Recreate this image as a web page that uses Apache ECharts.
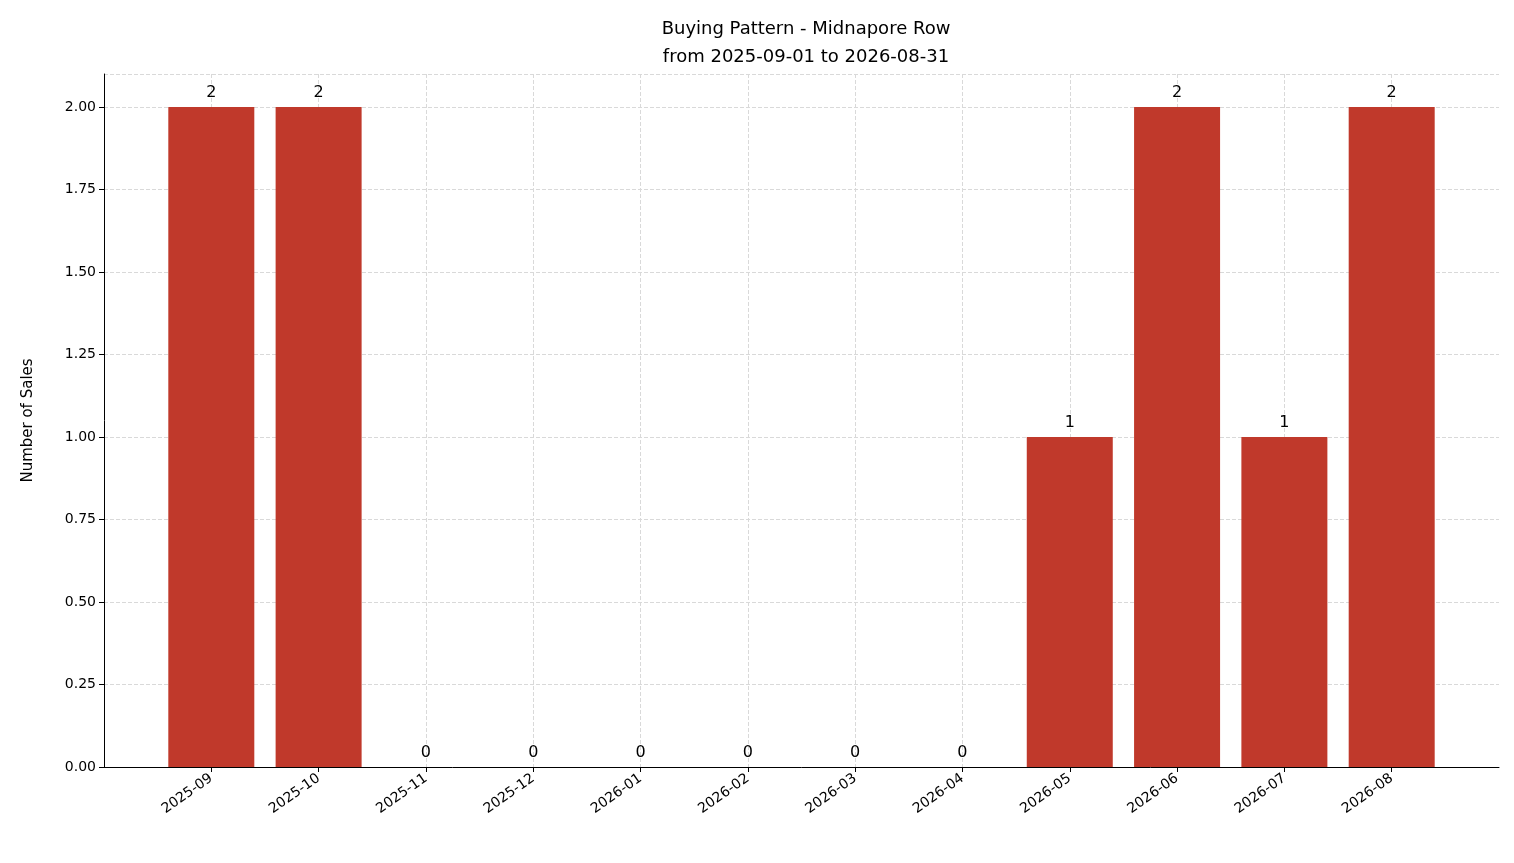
<!DOCTYPE html><html><head><meta charset="utf-8">
<script src="https://cdn.jsdelivr.net/npm/echarts@6/dist/echarts.min.js"></script>
<style>html,body{margin:0;padding:0;background:#fff}#c{width:1514px;height:863px}</style></head><body><div id="c"></div>
<script>
const categories=['2025-09','2025-10','2025-11','2025-12','2026-01','2026-02','2026-03','2026-04','2026-05','2026-06','2026-07','2026-08'];
const sales=[2,2,0,0,0,0,0,0,1,2,1,2];
const yTicks=[0,0.25,0.5,0.75,1,1.25,1.5,1.75,2];
const cats=[''].concat(categories,['']);
const vals=[null].concat(sales,[null]);
const ch=echarts.init(document.getElementById('c'));
const F='DejaVu Sans';
ch.setOption({
 animation:false,
 title:{text:'Buying Pattern - Midnapore Row\nfrom 2025-09-01 to 2026-08-31',left:801,textAlign:'center',top:10,textStyle:{fontFamily:F,fontSize:18,fontWeight:'normal',color:'#000',lineHeight:28}},
 grid:{left:104,right:15,top:74,bottom:96},
 xAxis:{type:'category',data:cats,boundaryGap:false,
  axisLine:{lineStyle:{color:'#000'}},axisTick:{interval:(i,v)=>v!=='',lineStyle:{color:'#000'},length:5},
  axisLabel:{interval:0,rotate:35,fontFamily:F,fontSize:14,color:'#000',margin:10,formatter:v=>v},
  splitLine:{show:true,interval:(i,v)=>v!=='',lineStyle:{color:'#d9d9d9',type:'dashed'}}},
 yAxis:{type:'value',min:0,max:2.1,interval:0.25,name:'Number of Sales',nameLocation:'middle',nameGap:68,
  nameTextStyle:{fontFamily:F,fontSize:15,color:'#000'},
  axisLine:{show:true,lineStyle:{color:'#000'}},axisTick:{show:true,lineStyle:{color:'#000'},length:5},
  axisLabel:{fontFamily:F,fontSize:14,color:'#000',showMaxLabel:false,formatter:v=>yTicks.includes(v)?v.toFixed(2):''},
  splitLine:{lineStyle:{color:'#d9d9d9',type:'dashed'}}},
 series:[{type:'bar',data:vals,barWidth:86,itemStyle:{color:'#c0392b'},
  label:{show:true,position:'top',distance:6,fontFamily:F,fontSize:16,color:'#000',formatter:p=>p.value==null?'':String(p.value)}}]
});
</script></body></html>
